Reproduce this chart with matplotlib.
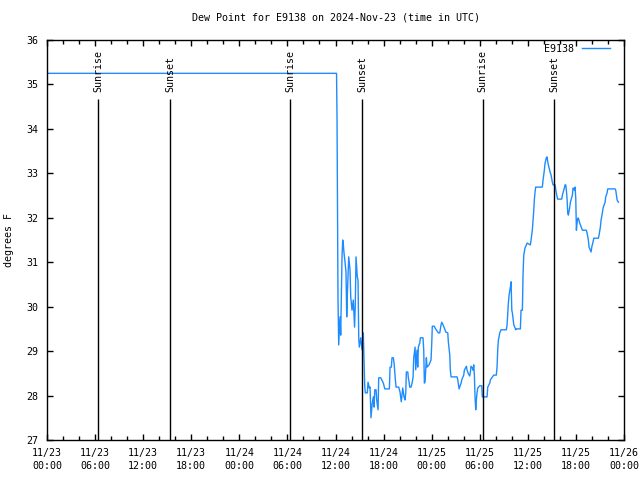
import numpy as np
import pandas as pd
import matplotlib
matplotlib.use("Agg")
import matplotlib.pyplot as plt
import matplotlib.dates as mdates

start = pd.Timestamp("2024-11-23 00:00")

# hours since 11/23 00:00 UTC and dew point (F)
hours = [0.1, 36.13, 36.19, 36.25, 36.31, 36.4, 36.48, 36.56, 36.65, 36.75,
         36.81, 36.9, 36.98, 37.06, 37.19, 37.31, 37.4, 37.5, 37.65, 37.81,
         37.9, 38.06, 38.22, 38.38, 38.47, 38.56, 38.72, 38.81, 38.9, 38.97,
         39.15, 39.31, 39.47, 39.64, 39.72, 39.97, 40.06, 40.22, 40.31, 40.43,
         40.56, 40.72, 40.81, 40.9, 41.06, 41.14, 41.31, 41.39, 41.64, 41.97,
         42.15, 42.72, 42.81, 42.97, 43.05, 43.22, 43.31, 43.47, 43.56, 43.89,
         44.05, 44.21, 44.39, 44.55, 44.68, 44.77, 44.84, 45.02, 45.09, 45.18,
         45.26, 45.43, 45.59, 45.68, 45.76, 45.93, 46.01, 46.17, 46.26, 46.34,
         46.51, 46.59, 46.92, 47.01, 47.09, 47.17, 47.26, 47.34, 47.42, 47.67,
         47.92, 48.01, 48.08, 48.33, 48.42, 48.83, 49.01, 49.17, 49.26, 49.42,
         49.58, 49.76, 50.01, 50.08, 50.26, 50.33, 50.42, 51.17, 51.26, 51.42,
         51.5, 51.67, 51.75, 52.0, 52.08, 52.33, 52.42, 52.58, 52.75, 52.83,
         52.91, 53.08, 53.16, 53.25, 53.33, 53.41, 53.5, 53.58, 53.66, 53.75,
         54.0, 54.25, 54.32, 54.91, 55.0, 55.25, 55.32, 55.74, 56.07, 56.16,
         56.24, 56.32, 56.41, 56.49, 56.66, 57.32, 57.41, 57.57, 57.66, 57.82,
         57.91, 58.0, 58.07, 58.25, 58.5, 58.57, 59.07, 59.15, 59.32, 59.4,
         59.49, 59.56, 59.65, 59.82, 59.9, 60.32, 60.4, 60.56, 60.65, 60.74,
         60.81, 60.9, 60.98, 61.81, 61.9, 62.06, 62.15, 62.31, 62.4, 62.49,
         62.56, 62.81, 62.9, 63.06, 63.15, 63.4, 63.49, 63.65, 63.73, 64.23,
         64.31, 64.56, 64.64, 64.73, 64.81, 64.89, 64.98, 65.06, 65.23, 65.31,
         65.56, 65.64, 65.81, 65.89, 65.98, 66.06, 66.14, 66.23, 66.31, 66.48,
         66.56, 66.81, 66.89, 67.3, 67.39, 67.55, 67.64, 67.89, 67.98, 68.14,
         68.23, 68.8, 68.89, 69.05, 69.14, 69.3, 69.39, 69.64, 69.72, 69.89,
         69.97, 70.88, 70.97, 71.05, 71.14, 71.3]
dewpoint = [35.25, 35.25, 34.25, 32.2, 30.2, 29.14, 29.48, 29.77, 29.36, 30.38,
            31.1, 31.5, 31.39, 31.21, 31.0, 30.78, 29.77, 30.38, 31.12, 30.83,
            30.22, 29.92, 30.15, 29.54, 30.04, 31.12, 30.67, 30.6, 29.3, 29.09,
            29.3, 29.03, 29.41, 28.24, 28.06, 28.06, 28.3, 28.17, 28.19, 27.5,
            27.79, 27.97, 27.74, 28.13, 28.13, 27.9, 27.68, 28.4, 28.4, 28.28,
            28.15, 28.15, 28.64, 28.64, 28.85, 28.85, 28.73, 28.35, 28.19, 28.19,
            28.08, 27.86, 28.17, 27.97, 27.9, 28.08, 28.53, 28.53, 28.4, 28.31,
            28.19, 28.19, 28.31, 28.42, 28.85, 29.09, 28.58, 29.02, 28.64, 29.09,
            29.18, 29.3, 29.3, 29.02, 28.28, 28.3, 28.57, 28.85, 28.64, 28.69,
            28.8, 29.18, 29.56, 29.56, 29.52, 29.41, 29.41, 29.59, 29.65, 29.59,
            29.52, 29.43, 29.41, 29.21, 28.91, 28.57, 28.42, 28.42, 28.35, 28.15,
            28.19, 28.28, 28.35, 28.46, 28.57, 28.66, 28.57, 28.49, 28.44, 28.53,
            28.66, 28.62, 28.57, 28.69, 28.46, 27.97, 27.68, 27.9, 28.06, 28.17,
            28.22, 28.22, 27.97, 27.97, 28.19, 28.28, 28.35, 28.46, 28.46, 28.64,
            29.02, 29.25, 29.32, 29.41, 29.48, 29.48, 29.59, 30.08, 30.26, 30.44,
            30.56, 29.92, 29.86, 29.59, 29.48, 29.5, 29.5, 29.92, 29.92, 30.71,
            31.16, 31.23, 31.32, 31.39, 31.43, 31.39, 31.5, 31.72, 31.95, 32.17,
            32.4, 32.58, 32.69, 32.69, 32.85, 33.07, 33.23, 33.35, 33.37, 33.25,
            33.19, 33.01, 32.96, 32.8, 32.74, 32.74, 32.62, 32.47, 32.42, 32.42,
            32.51, 32.67, 32.74, 32.74, 32.62, 32.44, 32.11, 32.06, 32.24, 32.35,
            32.51, 32.67, 32.62, 32.69, 32.44, 31.72, 31.88, 31.99, 31.99, 31.88,
            31.84, 31.72, 31.72, 31.72, 31.66, 31.5, 31.34, 31.23, 31.34, 31.46,
            31.54, 31.54, 31.61, 31.79, 31.95, 32.11, 32.22, 32.35, 32.47, 32.56,
            32.65, 32.65, 32.62, 32.51, 32.4, 32.35]

sun_hours = [6.42, 15.35, 30.35, 39.32, 54.37, 63.25]
sun_labels = ["Sunrise", "Sunset", "Sunrise", "Sunset", "Sunrise", "Sunset"]

fs = 7.2
plt.rcParams['font.family'] = 'DejaVu Sans Mono'
plt.rcParams['font.size'] = fs

times = start + pd.to_timedelta(hours, unit="h")

fig = plt.figure(figsize=(6.4, 4.8), dpi=100)
ax = fig.add_axes([47 / 640, 40 / 480, 577 / 640, 400 / 480])

ax.plot(times, dewpoint, color='#1e8cff', lw=1.0, label='E9138')

for h, lab in zip(sun_hours, sun_labels):
    t = start + pd.Timedelta(hours=h)
    ax.vlines(t, 27, 34.67, color='black', lw=1.0)
    ax.text(t, 34.83, lab, rotation=90, ha='center', va='bottom', fontsize=fs)

ax.set_xlim(start, start + pd.Timedelta(hours=72))
ax.set_ylim(27, 36)
ax.xaxis.set_major_locator(mdates.HourLocator(byhour=[0, 6, 12, 18]))
ax.xaxis.set_minor_locator(mdates.HourLocator(byhour=range(0, 24, 2)))
ax.xaxis.set_major_formatter(mdates.DateFormatter('%m/%d\n%H:%M'))
ax.set_yticks(np.arange(27, 37, 1))

ax.tick_params(which='both', direction='in', top=True, right=True, labelsize=fs)
ax.tick_params(which='major', length=4, width=1)
ax.tick_params(which='minor', length=3, width=1)
ax.tick_params(axis='x', pad=6)
ax.tick_params(axis='y', pad=6)
for lbl in ax.get_xticklabels():
    lbl.set_linespacing(1.35)
for s in ax.spines.values():
    s.set_linewidth(1.0)

ax.set_ylabel('degrees F', labelpad=9)
ax.set_title('Dew Point for E9138 on 2024-Nov-23 (time in UTC)', pad=14, fontsize=fs)
ax.legend(loc='upper right', bbox_to_anchor=(0.9757, 0.99), frameon=False,
          markerfirst=False, handlelength=2.8, handletextpad=0.8,
          borderaxespad=0, borderpad=0, fontsize=fs)

fig.savefig('out.png', dpi=100)
